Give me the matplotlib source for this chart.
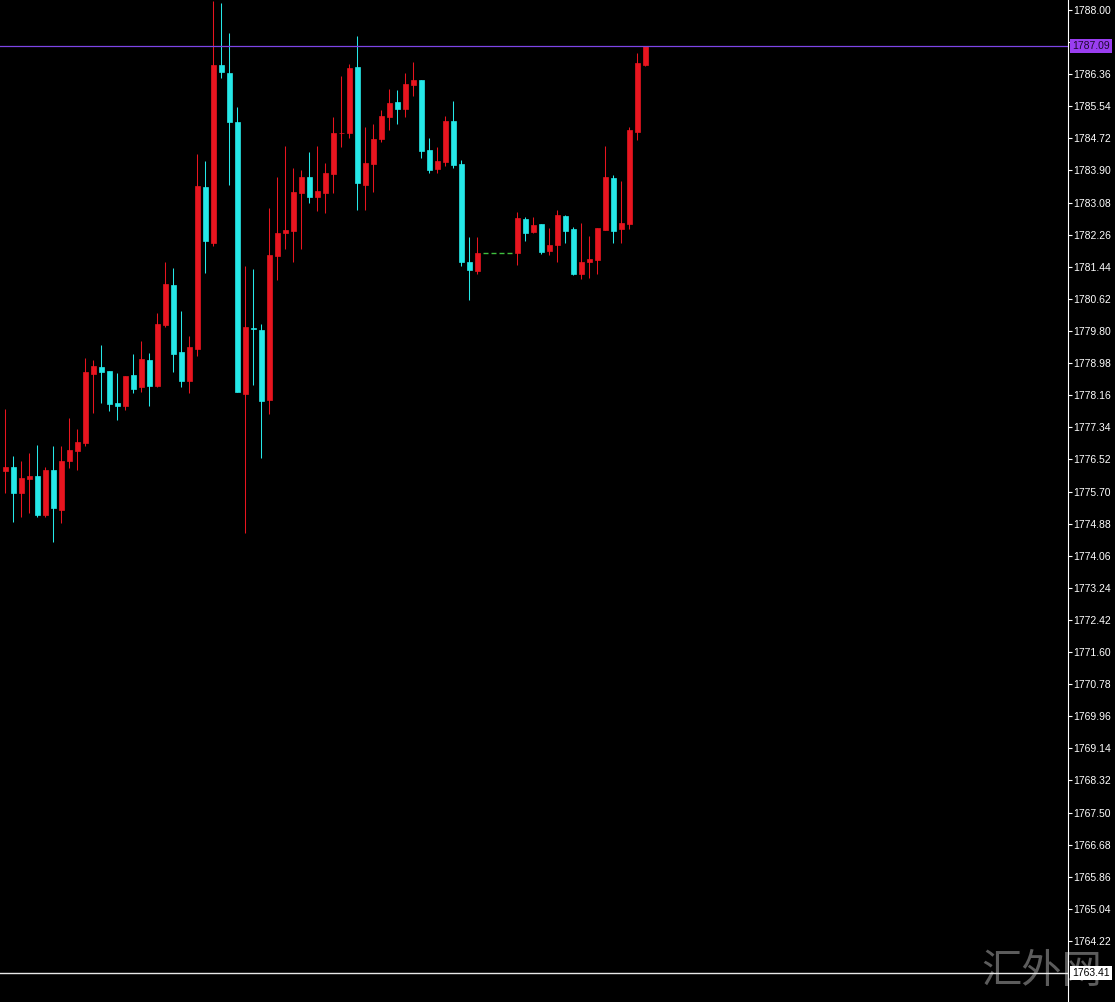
import numpy as np
import matplotlib.pyplot as plt
import matplotlib.transforms as mtransforms

plt.rcParams['font.family'] = ['Liberation Sans', 'DejaVu Sans']

# OHLC, oldest bar first
opens = [1776.23, 1776.33, 1775.67, 1776.03, 1776.10, 1775.09, 1776.25, 1775.23, 1776.48, 1776.74,
         1776.95, 1778.70, 1778.87, 1778.78, 1777.97, 1777.89, 1778.68, 1778.36, 1779.06, 1778.40,
         1779.95, 1780.98, 1779.26, 1778.53, 1779.34, 1783.47, 1782.06, 1786.59, 1786.40, 1785.14,
         1778.19, 1779.87, 1779.83, 1778.04, 1781.72, 1782.31, 1782.36, 1783.33, 1783.73, 1783.23,
         1783.33, 1783.81, 1784.85, 1784.87, 1786.54, 1783.53, 1784.07, 1784.70, 1785.27, 1785.64,
         1785.48, 1786.08, 1786.21, 1784.42, 1783.94, 1784.11, 1785.16, 1784.07, 1781.57, 1781.34,
         1781.80, 1781.80, 1781.80, 1781.80, 1781.80, 1782.66, 1782.34, 1782.53, 1781.85, 1782.00,
         1782.74, 1782.41, 1781.26, 1781.55, 1781.61, 1782.38, 1783.72, 1782.41, 1782.53, 1784.89,
         1786.59]
highs = [1777.80, 1776.61, 1776.48, 1776.68, 1776.89, 1776.33, 1776.85, 1776.86, 1777.57, 1777.29,
         1779.10, 1779.06, 1779.44, 1778.78, 1778.72, 1778.65, 1779.21, 1779.55, 1779.25, 1780.27,
         1781.55, 1781.40, 1780.31, 1779.66, 1784.31, 1784.14, 1788.23, 1788.18, 1787.40, 1785.51,
         1781.46, 1781.38, 1779.98, 1782.93, 1783.74, 1784.53, 1783.96, 1783.91, 1784.38, 1784.53,
         1784.09, 1785.27, 1786.31, 1786.61, 1787.34, 1785.02, 1785.09, 1785.45, 1785.97, 1785.96,
         1786.38, 1786.68, 1786.21, 1784.74, 1784.51, 1785.29, 1785.68, 1784.17, 1782.20, 1782.19,
         1781.80, 1781.80, 1781.80, 1781.80, 1782.85, 1782.71, 1782.70, 1782.53, 1782.42, 1782.89,
         1782.76, 1782.46, 1782.57, 1782.23, 1782.42, 1784.53, 1783.79, 1783.63, 1785.02, 1786.89,
         1787.09]
lows = [1775.65, 1774.93, 1775.04, 1775.16, 1775.04, 1775.04, 1774.42, 1774.90, 1776.29, 1776.25,
        1776.85, 1777.70, 1777.95, 1777.76, 1777.53, 1777.77, 1778.21, 1778.25, 1777.89, 1778.36,
        1779.90, 1778.76, 1778.38, 1778.21, 1779.16, 1781.27, 1781.97, 1786.26, 1783.53, 1778.25,
        1774.63, 1778.42, 1776.55, 1777.68, 1781.10, 1781.89, 1781.57, 1781.89, 1783.08, 1782.87,
        1782.81, 1783.32, 1784.51, 1784.74, 1782.89, 1782.89, 1783.36, 1784.64, 1784.93, 1785.10,
        1785.27, 1785.80, 1784.21, 1783.83, 1783.83, 1784.02, 1783.96, 1781.47, 1780.59, 1781.26,
        1781.80, 1781.80, 1781.80, 1781.80, 1781.49, 1782.11, 1782.30, 1781.77, 1781.74, 1781.57,
        1782.06, 1781.23, 1781.12, 1781.15, 1781.26, 1782.38, 1782.04, 1782.04, 1782.40, 1784.68,
        1786.57]
closes = [1776.33, 1775.67, 1776.04, 1776.10, 1775.09, 1776.25, 1775.27, 1776.48, 1776.76, 1776.97,
          1778.74, 1778.91, 1778.76, 1777.94, 1777.89, 1778.65, 1778.31, 1779.08, 1778.40, 1779.98,
          1781.00, 1779.21, 1778.53, 1779.38, 1783.50, 1782.11, 1786.59, 1786.42, 1785.15, 1778.25,
          1779.91, 1779.86, 1778.02, 1781.74, 1782.30, 1782.38, 1783.34, 1783.73, 1783.22, 1783.37,
          1783.83, 1784.85, 1784.86, 1786.52, 1783.59, 1784.08, 1784.70, 1785.29, 1785.62, 1785.47,
          1786.10, 1786.21, 1784.41, 1783.92, 1784.14, 1785.16, 1784.04, 1781.56, 1781.36, 1781.79,
          1781.80, 1781.80, 1781.80, 1781.80, 1782.69, 1782.31, 1782.51, 1781.81, 1782.00, 1782.76,
          1782.35, 1781.25, 1781.56, 1781.64, 1782.42, 1783.74, 1782.35, 1782.57, 1784.93, 1786.65,
          1787.09]

bid_price = 1787.09
hline_price = 1763.41
tick_top = 1788.00
tick_step = 0.82
n_ticks = 30
watermark = '汇外网'

RED = '#e8151f'
CYAN = '#25e8e8'
GREEN = '#3fbf3f'

fig = plt.figure(figsize=(11.15, 10.02), dpi=100, facecolor='black')
ax = fig.add_axes([0, 0, 1068 / 1115, 1])
ax.patch.set_alpha(0)

o = np.array(opens)
h = np.array(highs)
l = np.array(lows)
c = np.array(closes)
x = np.arange(len(o))

up = c > o
down = c < o
flat = c == o

# 阳线 (red) / 阴线 (cyan)
ax.vlines(x[up], l[up], h[up], color=RED, lw=0.75)
ax.bar(x[up], (c - o)[up], bottom=o[up], width=0.6, color=RED, edgecolor=RED, linewidth=0.5)
ax.vlines(x[down], l[down], h[down], color=CYAN, lw=0.75)
ax.bar(x[down], (o - c)[down], bottom=c[down], width=0.6, color=CYAN, edgecolor=CYAN, linewidth=0.5)
# bars with no movement
ax.hlines(c[flat], x[flat] - 0.32, x[flat] + 0.32, color=GREEN, lw=1)

ax.axhline(bid_price, color='#7d45e6', lw=0.9)
ax.axhline(hline_price, color='#e8e8e8', lw=1)

ax.set_xlim(-0.6625, 132.84)
ax.set_ylim(1762.66, 1788.255)

yt = tick_top - tick_step * np.arange(n_ticks)
labels = [f'{v:.2f}' for v in yt]
# the bid box sits on top of this one
labels[1] = ''
ax.set_yticks(yt)
ax.set_yticklabels(labels)
ax.yaxis.tick_right()
ax.tick_params(axis='y', colors='white', length=3, width=0.8, pad=1, labelsize=7.5)
ax.set_xticks([])
for s in ['top', 'bottom', 'left']:
    ax.spines[s].set_visible(False)
ax.spines['right'].set_color('white')
ax.spines['right'].set_linewidth(0.8)

# price boxes on the scale
trans = mtransforms.blended_transform_factory(ax.transAxes, ax.transData)
ax.text(1 + 4 / 1068, bid_price, f'{bid_price:.2f}', transform=trans, ha='left', va='center',
        fontsize=7.5, color='#1e0a30', zorder=10, clip_on=False,
        bbox=dict(boxstyle='square,pad=0.2', fc='#9a3ef0', ec='none'))
ax.text(1 + 4 / 1068, hline_price, f'{hline_price:.2f}', transform=trans, ha='left', va='center',
        fontsize=7.5, color='black', zorder=10, clip_on=False,
        bbox=dict(boxstyle='square,pad=0.2', fc='white', ec='none'))

fig.text(1042 / 1115, 1 - 972 / 1002, watermark, family=['Noto Sans CJK SC'], fontsize=29,
         color='#5c5c5c', ha='center', va='center', zorder=-1)

plt.savefig('out.png', dpi=100, facecolor='black')
